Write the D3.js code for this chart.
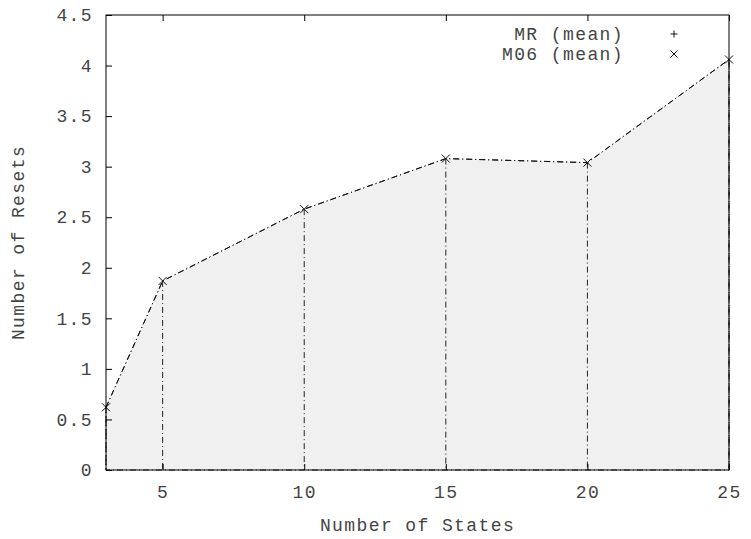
<!DOCTYPE html>
<html>
<head>
<meta charset="utf-8">
<script src="https://cdn.jsdelivr.net/npm/d3@7"></script>
<style>
  body { margin: 0; background: #fff; }
  text { font-family: "Liberation Mono", "DejaVu Sans Mono", monospace; fill: #444; letter-spacing: 1.4px; }
</style>
</head>
<body>
<svg id="chart" width="751" height="539"></svg>
<script>
// gnuplot style plot: resets vs number of states

var states = [3, 5, 10, 15, 20, 25];
var m06Mean = [0.62, 1.87, 2.58, 3.08, 3.04, 4.06];
var mrMean = []; // no points visible for MR in the picture
var xTicks = [5, 10, 15, 20, 25];
var yTicks = [0, 0.5, 1, 1.5, 2, 2.5, 3, 3.5, 4, 4.5];
var legendNames = ["MR (mean)", "M06 (mean)"];

!function(){
	var svg = d3.select("#chart");
	var mL = 106, mR = 729, mT = 15, mB = 470;
	var fs = 18;

	var x = d3.scaleLinear().domain([3, 25]).range([mL, mR]);
	var y = d3.scaleLinear().domain([0, 4.5]).range([mB, mT]);

	var pts = states.map(function(d, i) { return [d, m06Mean[i]]; });
	var dashDot = "6,3,1,3";

	// filled area under the curve
	var area = d3.area().x(function(d) { return x(d[0]); })
		.y0(y(0)).y1(function(d) { return y(d[1]); });
	svg.append("path").datum(pts).attr("d", area)
		.attr("fill", "#f0f0f0").attr("stroke", "#222")
		.attr("stroke-width", 1).attr("stroke-dasharray", dashDot);

	// impulses
	svg.append("g").selectAll("line").data(pts).enter().append("line")
		.attr("x1", function(d) { return x(d[0]); })
		.attr("x2", function(d) { return x(d[0]); })
		.attr("y1", function(d) { return y(d[1]); })
		.attr("y2", y(0))
		.attr("stroke", "#222").attr("stroke-width", 1)
		.attr("stroke-dasharray", dashDot);

	// the line itself
	var line = d3.line().x(function(d) { return x(d[0]); }).y(function(d) { return y(d[1]); });
	svg.append("path").datum(pts).attr("d", line)
		.attr("fill", "none").attr("stroke", "#111").attr("stroke-width", 1)
		.attr("stroke-dasharray", dashDot);

	// markers
	function cross(g, cx, cy, s) {
		g.append("path").attr("d", "M" + (cx - s) + "," + (cy - s) + "L" + (cx + s) + "," + (cy + s) +
			"M" + (cx - s) + "," + (cy + s) + "L" + (cx + s) + "," + (cy - s))
			.attr("stroke", "#111").attr("stroke-width", 1).attr("fill", "none");
	}
	function plus(g, cx, cy, s) {
		g.append("path").attr("d", "M" + (cx - s) + "," + cy + "L" + (cx + s) + "," + cy +
			"M" + cx + "," + (cy - s) + "L" + cx + "," + (cy + s))
			.attr("stroke", "#111").attr("stroke-width", 1).attr("fill", "none");
	}
	var mk = svg.append("g");
	pts.forEach(function(d) { cross(mk, x(d[0]), y(d[1]), 4); });
	mrMean.forEach(function(v, i) { plus(mk, x(states[i]), y(v), 4); });

	// frame
	svg.append("rect").attr("x", mL).attr("y", mT)
		.attr("width", mR - mL).attr("height", mB - mT)
		.attr("fill", "none").attr("stroke", "#000").attr("stroke-width", 1);

	// x ticks, bottom and mirrored top
	var xAxis = d3.axisBottom(x).tickValues(xTicks).tickSize(-6).tickPadding(15).tickFormat(d3.format("d"));
	var gx = svg.append("g").attr("transform", "translate(0," + mB + ")").call(xAxis);
	var xTop = d3.axisTop(x).tickValues(xTicks).tickSize(-6).tickFormat("");
	var gxt = svg.append("g").attr("transform", "translate(0," + mT + ")").call(xTop);

	// y ticks, left only
	var yAxis = d3.axisLeft(y).tickValues(yTicks).tickSize(-6).tickPadding(13).tickFormat(function(d) { return d; });
	var gy = svg.append("g").attr("transform", "translate(" + mL + ",0)").call(yAxis);

	[gx, gxt, gy].forEach(function(g) {
		g.select(".domain").remove();
		g.selectAll(".tick line").attr("stroke", "#000");
		g.selectAll("text").attr("font-size", fs).attr("font-family", null).attr("fill", "#444");
	});

	// axis titles
	svg.append("text").attr("x", (mL + mR) / 2).attr("y", 531)
		.attr("text-anchor", "middle").attr("font-size", fs).text("Number of States");
	svg.append("text").attr("transform", "translate(24," + ((mT + mB) / 2) + ")rotate(-90)")
		.attr("text-anchor", "middle").attr("font-size", fs).text("Number of Resets");

	// legend
	var lg = svg.append("g");
	legendNames.forEach(function(name, i) {
		var ly = 34 + i * 20;
		lg.append("text").attr("x", 624).attr("y", ly + 6).attr("text-anchor", "end")
			.attr("font-size", fs).text(name);
		if (i == 0) plus(lg, 674, ly, 3.5); else cross(lg, 674, ly, 3.5);
	});
}();
</script>
</body>
</html>
